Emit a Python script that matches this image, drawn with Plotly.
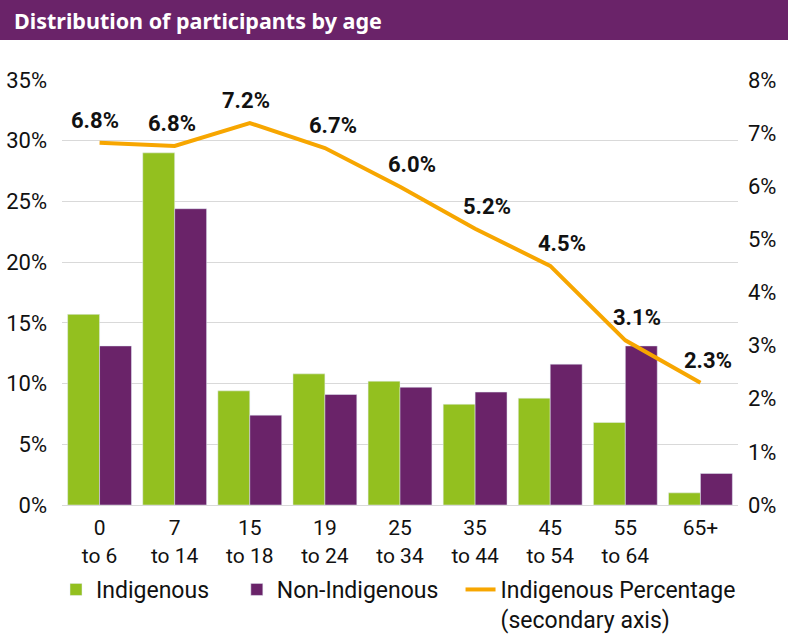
import plotly.graph_objects as go

categories = ["0<br>to 6", "7<br>to 14", "15<br>to 18", "19<br>to 24", "25<br>to 34",
              "35<br>to 44", "45<br>to 54", "55<br>to 64", "65+"]
indigenous = [15.7, 29.0, 9.4, 10.8, 10.2, 8.3, 8.8, 6.8, 1.0]
non_indigenous = [13.1, 24.4, 7.4, 9.1, 9.7, 9.3, 11.6, 13.1, 2.6]
indig_pct = [6.82, 6.76, 7.19, 6.72, 5.99, 5.2, 4.5, 3.1, 2.3]
pct_labels = ["6.8%", "6.8%", "7.2%", "6.7%", "6.0%", "5.2%", "4.5%", "3.1%", "2.3%"]
label_xshift = [-5, -3, -4, 8, 12, 12, 12, 12, 8]

GREEN = "#93C01F"
PURPLE = "#6A2369"
ORANGE = "#F7A600"
FONT = "Roboto, sans-serif"
PH = 425.0  # plot height in px
PW = 676.0  # plot width in px
NB = "\u00a0"

fig = go.Figure()
fig.add_trace(go.Bar(x=categories, y=indigenous, name="Indigenous" + NB * 4, marker_color=GREEN))
fig.add_trace(go.Bar(x=categories, y=non_indigenous, name="Non-Indigenous" + NB * 3, marker_color=PURPLE))
fig.add_trace(go.Scatter(x=categories, y=indig_pct, name="Indigenous Percentage<br>(secondary axis)",
                         mode="lines", line=dict(color=ORANGE, width=4), yaxis="y2"))

for c, v, t, xs in zip(categories, indig_pct, pct_labels, label_xshift):
    fig.add_annotation(x=c, y=v, xref="x", yref="y2", text=f"<b>{t}</b>", showarrow=False,
                       yanchor="bottom", yshift=8, xshift=xs,
                       font=dict(family=FONT, size=22, color="#111111"))

fig.add_shape(type="rect", xref="paper", yref="paper", x0=-0.2, x1=1.2,
              y0=1 + 40 / PH, y1=1 + 81 / PH,
              fillcolor=PURPLE, line_width=0, layer="above")
fig.add_annotation(xref="paper", yref="paper", x=(12 - 62) / PW, y=1 + 60 / PH, xanchor="left",
                   yanchor="middle", text="<b>Distribution of participants by age</b>",
                   showarrow=False, font=dict(family="Noto Sans, sans-serif", size=21.5, color="white"))

fig.update_layout(
    width=788, height=637,
    margin=dict(l=62, r=50, t=80, b=132, autoexpand=False),
    plot_bgcolor="white", paper_bgcolor="white",
    barmode="group", bargap=0.15, bargroupgap=0,
    font=dict(family=FONT, size=22, color="#111111"),
    xaxis=dict(showline=True, linecolor="#D9D9D9", linewidth=1, ticks="", tickfont=dict(size=21),
               ticklabelstandoff=4),
    yaxis=dict(range=[0, 35], dtick=5, ticksuffix="%", showgrid=True, gridcolor="#D9D9D9",
               zeroline=False, tickfont=dict(size=22), ticklabelstandoff=14),
    yaxis2=dict(range=[0, 8], dtick=1, ticksuffix="%", overlaying="y", side="right",
                showgrid=False, zeroline=False, tickfont=dict(size=22), ticklabelstandoff=9),
    legend=dict(orientation="h", x=(56 - 62) / PW, y=-(568 - 505) / PH, xanchor="left", yanchor="top",
                font=dict(size=23), traceorder="normal", valign="top"),
    showlegend=True,
)

fig.write_html("out.html", config={"displayModeBar": False},
               post_script="document.body.style.margin='0';")
